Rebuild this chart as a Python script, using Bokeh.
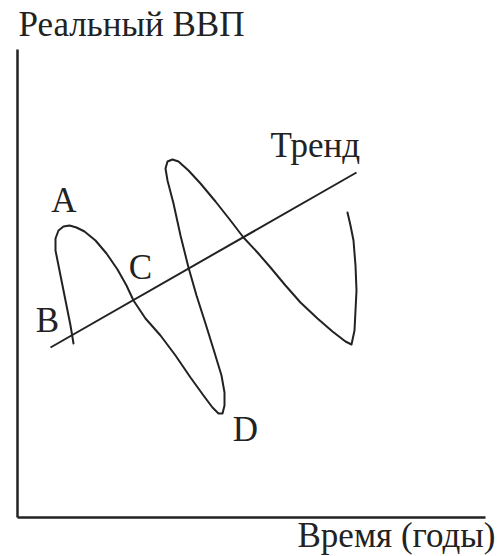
from bokeh.plotting import figure
from bokeh.models import Range1d, ColumnDataSource
from bokeh.core.properties import value
from bokeh.embed import file_html
from bokeh.resources import INLINE

# Schematic business cycle; units: time (x) and real GDP (y), origin at the axes' corner
cycle_time = [56, 53, 49, 45, 41, 38, 38, 41, 46, 52, 59, 67, 78, 89, 100, 109, 116,
              128, 143, 158, 173, 186, 195, 201, 205, 207, 207, 204, 197, 188, 179,
              171, 163, 156, 150, 148, 150, 155, 161, 171, 183, 198, 213, 226, 240,
              253, 268, 283, 300, 315, 328, 334, 337, 338, 339, 338, 336, 333, 330]
cycle_gdp = [174, 192, 212, 232, 252, 267, 279, 287, 291, 292, 290, 286, 277, 264, 248,
             232, 217, 199, 182, 162, 140, 122, 110, 104, 104, 112, 125, 142, 165, 194,
             222, 250, 282, 314, 337, 349, 356, 358, 356, 347, 334, 316, 297, 280, 265,
             250, 232, 215, 199, 186, 176, 173, 187, 207, 227, 252, 277, 292, 305]

trend_time = [33, 339]
trend_gdp = [170, 345]

axis_len_x = 468
axis_len_y = 468

point_names = ["A", "B", "C", "D"]
point_time = [46.5, 30, 123, 228]
point_gdp = [317, 197, 250, 88]

INK = "#222222"
FONT = value("Liberation Serif")

p = figure(width=499, height=556, output_backend="svg", toolbar_location=None,
           x_axis_type=None, y_axis_type=None, min_border=0,
           x_range=Range1d(-17, 482), y_range=Range1d(-39, 517))
p.grid.visible = False
p.outline_line_color = None
p.background_fill_color = "white"

# axes
p.line([0, 0], [0, axis_len_y], line_color=INK, line_width=2.5)
p.line([0, axis_len_x], [0, 0], line_color=INK, line_width=2.5)

# trend and cycle
p.line(trend_time, trend_gdp, line_color=INK, line_width=2)
p.line(cycle_time, cycle_gdp, line_color=INK, line_width=2, line_join="round", line_cap="round")

src = ColumnDataSource(dict(x=point_time, y=point_gdp, t=point_names))
p.text(x="x", y="y", text="t", source=src, text_font=FONT, text_font_size="35px",
       text_color=INK, text_align="center", text_baseline="alphabetic")

p.text(x=[253], y=[372], text=["Тренд"], text_font=FONT, text_font_size="35px",
       text_color=INK, text_align="left", text_baseline="alphabetic")
p.text(x=[1], y=[493], text=["Реальный ВВП"], text_font=FONT, text_font_size="35px",
       text_color=INK, text_align="left", text_baseline="alphabetic")
p.text(x=[478], y=[-18], text=["Время (годы)"], text_font=FONT, text_font_size="35px",
       text_color=INK, text_align="right", text_baseline="alphabetic")

open("out.html", "w").write(file_html(p, INLINE))
